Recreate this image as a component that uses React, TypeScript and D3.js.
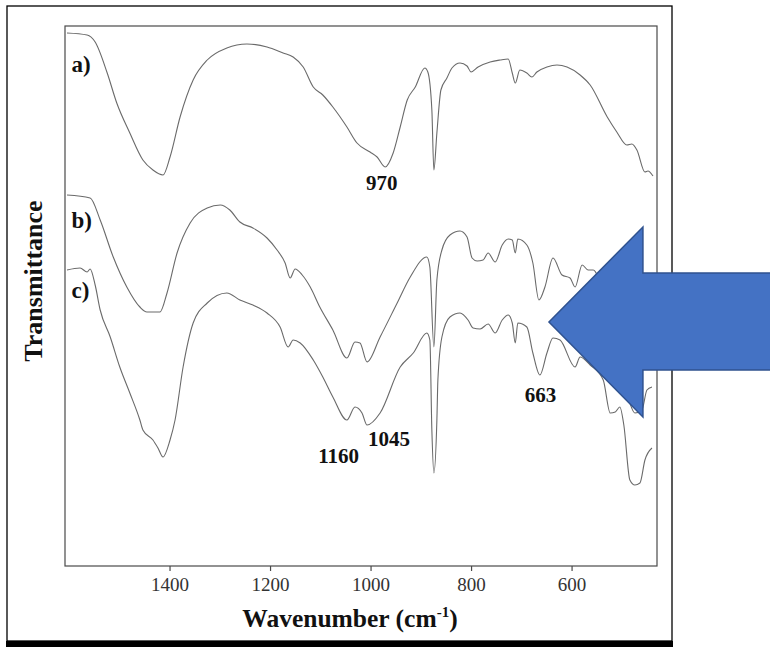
import React from 'react';
import * as d3 from 'd3';

// FTIR spectra, wavenumber (cm-1) / transmittance (arbitrary units)
const wavenumberA = [1605,1565,1549,1525,1506,1480,1454,1434,1414,1400,1380,1354,1326,1287,1247,1207,1175,1155,1135,1115,1096,1076,1048,1028,1002,988,972,956,942,928,912,893,887,879,875,869,861,849,839,823,809,801,787,763,743,727,719,713,704,690,680,670,650,630,610,584,564,530,511,491,481,471,455,449,439];
const transA = [533,531,524,493,463,433,406,396,391,409,449,486,506,518,522,519,513,509,499,479,471,459,439,423,414,409,399,413,439,466,479,498,494,456,396,433,476,488,498,503,500,494,499,504,506,507,493,483,496,493,489,494,499,501,499,491,481,449,434,421,422,416,394,395,390];

const wavenumberB = [1605,1559,1539,1513,1486,1460,1446,1420,1406,1386,1360,1326,1300,1281,1261,1235,1207,1187,1171,1161,1151,1137,1121,1102,1076,1048,1032,1022,1008,982,948,922,889,883,875,869,859,843,823,809,799,789,777,767,753,739,727,719,713,708,690,678,666,654,638,620,604,594,580,568,558,534,514,500,485,475,461,451,441];
const transB = [371,368,346,309,279,259,254,254,273,313,343,358,361,356,344,338,328,316,303,288,297,291,279,259,236,208,224,223,204,229,263,289,309,299,219,286,316,331,335,329,308,305,306,313,304,321,327,326,313,327,321,303,266,279,308,291,288,279,301,296,296,266,226,196,163,153,156,176,179];

const wavenumberC = [1605,1579,1565,1559,1549,1539,1519,1500,1480,1460,1454,1434,1424,1414,1400,1390,1374,1354,1326,1287,1261,1235,1207,1181,1165,1155,1141,1115,1096,1076,1048,1032,1018,1008,982,942,916,889,883,879,875,869,867,859,843,823,807,797,783,767,753,739,727,719,713,708,690,678,664,650,638,624,594,584,564,538,524,514,505,497,485,475,465,455,441];
const transC = [296,298,294,297,281,256,229,199,173,146,136,126,118,109,126,146,199,243,263,273,266,261,253,239,219,226,223,206,189,169,146,159,153,141,153,199,213,233,226,136,93,146,186,229,249,253,246,238,237,242,233,246,251,243,223,243,239,213,191,213,228,226,199,209,201,186,153,154,159,141,86,81,83,106,118];

const tickValues = [1400, 1200, 1000, 800, 600];
const seriesLabels = ['a)', 'b)', 'c)'];
const peakLabels = ['970', '1045', '1160', '663'];

const W = 770, H = 647;
const m = { left: 65, top: 26, right: 657, bottom: 566 };
const serif = '"Liberation Serif", "DejaVu Serif", serif';

const App = () => {
  const x = d3.scaleLinear().domain([1609, 431]).range([m.left, m.right]);
  const y = d3.scaleLinear().domain([0, 540]).range([m.bottom, m.top]);

  const line = d3.line<[number, number]>()
    .x(d => x(d[0]))
    .y(d => y(d[1]))
    .curve(d3.curveMonotoneX);

  const series = [
    wavenumberA.map((w, i) => [w, transA[i]] as [number, number]),
    wavenumberB.map((w, i) => [w, transB[i]] as [number, number]),
    wavenumberC.map((w, i) => [w, transC[i]] as [number, number]),
  ];

  // label anchors in data units (wavenumber, transmittance)
  const seriesLabelPos: [number, number][] = [[1596, 494], [1596, 338], [1596, 268]];
  const peakLabelPos: [number, number][] = [[1010, 376], [1006, 120], [1105, 103], [694, 164]];

  // arrow annotation in data units
  const arrowTip: [number, number] = [646, 244];
  const headW = 459, headTop = 339, headBot = 149, shaftTop = 293, shaftBot = 196, shaftEnd = 200;
  const arrowPts = [
    [arrowTip[0], arrowTip[1]], [headW, headTop], [headW, shaftTop], [shaftEnd, shaftTop],
    [shaftEnd, shaftBot], [headW, shaftBot], [headW, headBot],
  ].map(p => `${x(p[0])},${y(p[1])}`).join(' ');

  return (
    <svg width={W} height={H} style={{ position: 'absolute', left: 0, top: 0, background: '#fff' }}>
      <rect x={0} y={0} width={W} height={H} fill="#fff" />
      <rect x={7} y={6} width={665} height={635} fill="none" stroke="#000" strokeWidth={1.3} />
      <rect x={6} y={641} width={667} height={6} fill="#000" />

      <rect x={m.left} y={m.top} width={m.right - m.left} height={m.bottom - m.top}
        fill="none" stroke="#4a4a4a" strokeWidth={1.2} />

      {series.map((s, i) => (
        <path key={i} d={line(s) || ''} fill="none" stroke="#6a6a6a" strokeWidth={1.1} />
      ))}

      {tickValues.map(t => (
        <g key={t} transform={`translate(${x(t)},${m.bottom})`}>
          <line y2={5} stroke="#4a4a4a" strokeWidth={1.2} />
          <text y={25} textAnchor="middle" fontFamily={serif} fontSize={19} fill="#333">{t}</text>
        </g>
      ))}

      <text x={350} y={627} textAnchor="middle" fontFamily={serif} fontSize={25.5} fontWeight="bold" fill="#111">
        Wavenumber (cm<tspan dy={-10} fontSize={15}>-1</tspan><tspan dy={10}>)</tspan>
      </text>
      <text transform="translate(42,281) rotate(-90)" textAnchor="middle" fontFamily={serif}
        fontSize={26} fontWeight="bold" fill="#111">Transmittance</text>

      {seriesLabels.map((l, i) => (
        <text key={l} x={x(seriesLabelPos[i][0])} y={y(seriesLabelPos[i][1])} fontFamily={serif}
          fontSize={23} fontWeight="bold" fill="#111">{l}</text>
      ))}
      {peakLabels.map((l, i) => (
        <text key={l} x={x(peakLabelPos[i][0])} y={y(peakLabelPos[i][1])} fontFamily={serif}
          fontSize={21} fontWeight="bold" fill="#111">{l}</text>
      ))}

      <polygon points={arrowPts} fill="#4472C4" stroke="#2F528F" strokeWidth={1.5} />
    </svg>
  );
};

export default App;
